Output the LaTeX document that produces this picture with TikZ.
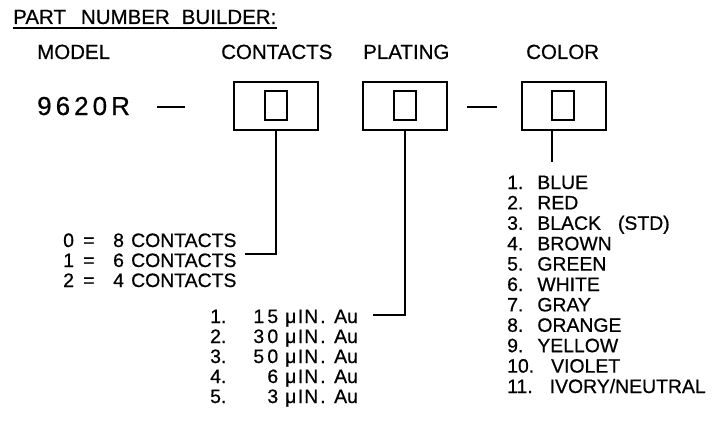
\documentclass[tikz,border=0pt]{standalone}
\usepackage{fontspec}
\setmainfont{Liberation Sans}[FakeBold=0.6]
\usetikzlibrary{positioning}

\newcommand{\digitcell}[1]{\makebox[18.5pt][l]{#1}}
\newcommand{\numcell}[1]{\makebox[14pt][r]{#1}}
\newcommand{\platerow}[2]{\makebox[36pt][l]{#1}\makebox[32pt][r]{#2}\hspace{7pt}\makebox[44pt][l]{μ\hspace{1.5pt}I\hspace{1pt}N\hspace{2pt}.}\hspace{5pt}Au}

\begin{document}
\begin{tikzpicture}[x=1pt, y=-1pt,
		box/.style={draw, line width=1.4pt, minimum width=84pt, minimum height=48pt, inner sep=0pt},
		slot/.style={draw, line width=1.2pt, minimum width=22pt, minimum height=29pt, inner sep=0pt},
		head/.style={anchor=base west, inner sep=0pt, font=\fontsize{20.5}{20.5}\selectfont},
		item/.style={anchor=base west, inner sep=0pt, font=\fontsize{19.4}{19.4}\selectfont},
		wire/.style={line width=1.4pt}]
		\useasboundingbox (0,0) rectangle (719,425);
		% Title and headings:
		\node[head](T) at (13,24){PART\hspace{15pt}NUMBER\hspace{12pt}BUILDER:};
		\draw[line width=1.1pt] ([yshift=-4pt]T.base west) -- ([yshift=-4pt]T.base east);
		\node[head](H1) at (37,59){MODEL};
		\node[head](H2) at (221,59){CONTACTS};
		\node[head](H3) at (363,59){PLATING};
		\node[head](H4) at (526,59){COLOR};
		% Model number and boxes:
		\node[head, font=\fontsize{26}{26}\selectfont](M) at (37,115){\digitcell{9}\digitcell{6}\digitcell{2}\digitcell{0}R};
		\coordinate (D1a) at (157,107);
		\coordinate (D1b) at (185,107);
		\draw[wire] (D1a) -- (D1b);
		\node[box](CB) at (276,106){};
		\node[slot](CS) at (276,105.5){};
		\node[box](PB) at (405,106){};
		\node[slot](PS) at (405,105.5){};
		\coordinate (D2a) at (467,107);
		\coordinate (D2b) at (497,107);
		\draw[wire] (D2a) -- (D2b);
		\node[box](KB) at (564,106){};
		\node[slot](KS) at (563,105.5){};
		% Contacts options:
		\node[item](C1) at (63,247){\makebox[20pt][l]{0}\makebox[30pt][l]{=}\makebox[18pt][l]{8}CONTACTS};
		\node[item](C2) at (63,267){\makebox[20pt][l]{1}\makebox[30pt][l]{=}\makebox[18pt][l]{6}CONTACTS};
		\node[item](C3) at (63,287){\makebox[20pt][l]{2}\makebox[30pt][l]{=}\makebox[18pt][l]{4}CONTACTS};
		\coordinate (CE) at (245,254);
		\draw[wire] (CB.south) |- (CE);
		% Plating options:
		\node[item](P1) at (210,323){\platerow{1.}{\numcell{1}\numcell{5}}};
		\node[item](P2) at (210,343){\platerow{2.}{\numcell{3}\numcell{0}}};
		\node[item](P3) at (210,363){\platerow{3.}{\numcell{5}\numcell{0}}};
		\node[item](P4) at (210,383){\platerow{4.}{\numcell{6}}};
		\node[item](P5) at (210,403){\platerow{5.}{\numcell{3}}};
		\coordinate (PE) at (373,315);
		\draw[wire] (PB.south) |- (PE);
		% Color options:
		\coordinate (KE) at (552,162);
		\draw[wire] (KB.south -| KE) -- (KE);
		\node[item](K1) at (507,189){1.\hspace{14pt}BLUE};
		\node[item](K2) at (507,209.4){2.\hspace{14pt}RED};
		\node[item](K3) at (507,229.8){3.\hspace{14pt}BLACK\hspace{17pt}(STD)};
		\node[item](K4) at (507,250.2){4.\hspace{14pt}BROWN};
		\node[item](K5) at (507,270.6){5.\hspace{14pt}GREEN};
		\node[item](K6) at (507,291){6.\hspace{14pt}WHITE};
		\node[item](K7) at (507,311.4){7.\hspace{14pt}GRAY};
		\node[item](K8) at (507,331.8){8.\hspace{14pt}ORANGE};
		\node[item](K9) at (507,352.2){9.\hspace{14pt}YELLOW};
		\node[item](K10) at (507,372.6){10.\hspace{17pt}VIOLET};
		\node[item](K11) at (507,393){11.\hspace{17pt}IVORY/NEUTRAL};
	\end{tikzpicture}
\end{document}
